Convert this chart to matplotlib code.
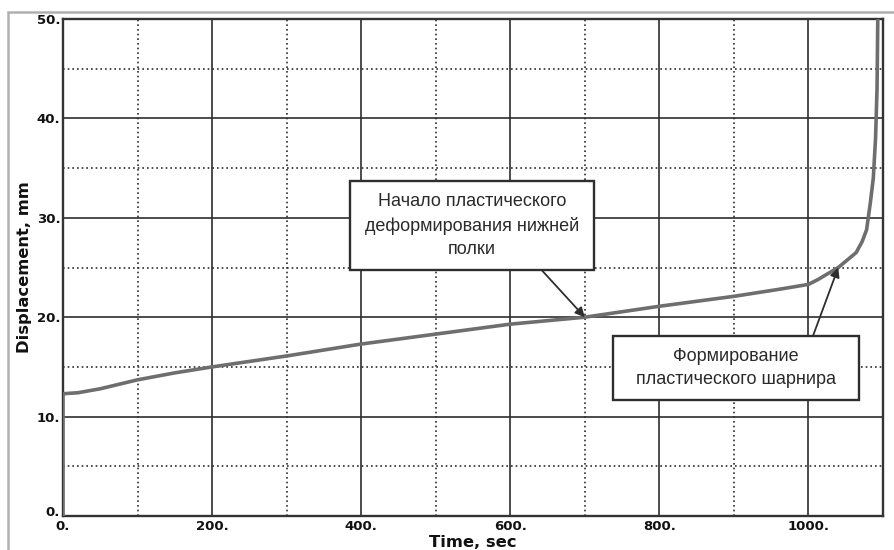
import matplotlib.pyplot as plt
from matplotlib.patches import Rectangle
from matplotlib.ticker import MultipleLocator
from matplotlib.transforms import ScaledTranslation
import matplotlib.font_manager as fm

# displacement vs time
time = [0, 0, 20, 50, 100, 150, 200, 300, 400, 500, 600, 700, 800, 900,
        960, 1000, 1013, 1040, 1064, 1072, 1078, 1083, 1087, 1090, 1092, 1093]
disp = [0, 12.3, 12.4, 12.8, 13.7, 14.4, 15.0, 16.1, 17.3, 18.3, 19.3, 20.0,
        21.1, 22.1, 22.8, 23.3, 23.8, 25.0, 26.5, 27.6, 28.8, 31.5, 34.0,
        38.0, 43.0, 50.0]

xticks = [0, 200, 400, 600, 800, 1000]
yticks = [0, 10, 20, 30, 40, 50]

note1 = "Начало пластического\nдеформирования нижней\nполки"
note1_point = (700, 20.0)
note2 = "Формирование\nпластического шарнира"
note2_point = (1040, 25.0)

names = {f.name for f in fm.fontManager.ttflist}
box_font = "Liberation Sans Narrow" if "Liberation Sans Narrow" in names else "Liberation Sans"

fig = plt.figure(figsize=(8.94, 5.5), dpi=100)
ax = fig.add_axes([63 / 894, 34 / 550, 820 / 894, 497 / 550])

# outer frame of the screenshot
fig.patches.append(Rectangle((8 / 894, -0.1), 1.2, (538 / 550) + 0.1,
                             transform=fig.transFigure, fill=False,
                             edgecolor="#b0b0b0", lw=1.8))

ax.plot(time, disp, color="#6e6e6e", lw=2.6, zorder=3, solid_joinstyle="round")

ax.set_xlim(0, 1100)
ax.set_ylim(0, 50)
ax.xaxis.set_major_locator(MultipleLocator(200))
ax.xaxis.set_minor_locator(MultipleLocator(100))
ax.yaxis.set_major_locator(MultipleLocator(10))
ax.yaxis.set_minor_locator(MultipleLocator(5))
ax.set_xticks(xticks, [f"{v}." for v in xticks])
ax.set_yticks(yticks, [f"{v}." for v in yticks])
ax.grid(which="major", color="#2e2e2e", lw=1.2, ls="-")
ax.grid(which="minor", color="#2e2e2e", lw=1.2, ls=(0, (1.0, 1.8)))
ax.tick_params(which="both", length=0, labelsize=9.5, labelcolor="#111111")
ax.tick_params(axis="x", pad=3)
ax.tick_params(axis="y", pad=2)
for lab in ax.get_xticklabels() + ax.get_yticklabels():
    lab.set_fontweight("bold")
# the y "0." sits a little above the corner
ylab0 = ax.get_yticklabels()[0]
ylab0.set_transform(ylab0.get_transform() + ScaledTranslation(0, 5 / 100, fig.dpi_scale_trans))
for s in ax.spines.values():
    s.set_color("#333333")
    s.set_linewidth(1.7)
ax.set_axisbelow(True)

ax.set_xlabel("Time, sec", fontsize=11.8, fontweight="bold", labelpad=1, color="#111111")
ax.set_ylabel("Displacement, mm", fontsize=11.8, fontweight="bold", labelpad=3, color="#111111")

# annotation boxes
boxes = [((385, 24.75), 327, 8.95, note1, note1_point, (642, 24.75)),
         ((738, 11.67), 330, 6.43, note2, note2_point, (1006, 18.1))]
for (bx, by), w, h, txt, pt, start in boxes:
    ax.add_patch(Rectangle((bx, by), w, h, facecolor="white",
                           edgecolor="#2e2e2e", lw=1.7, zorder=5))
    ax.text(bx + w / 2, by + h / 2, txt, ha="center", va="center",
            fontsize=13, family=[box_font, "DejaVu Sans"], color="#2a2a2a",
            linespacing=1.45, zorder=6)
    ax.annotate("", xy=pt, xytext=start,
                arrowprops=dict(arrowstyle="-|>", color="#2e2e2e", lw=1.3,
                                mutation_scale=14, shrinkA=0, shrinkB=0),
                zorder=4)

fig.savefig("out.png", dpi=100)
